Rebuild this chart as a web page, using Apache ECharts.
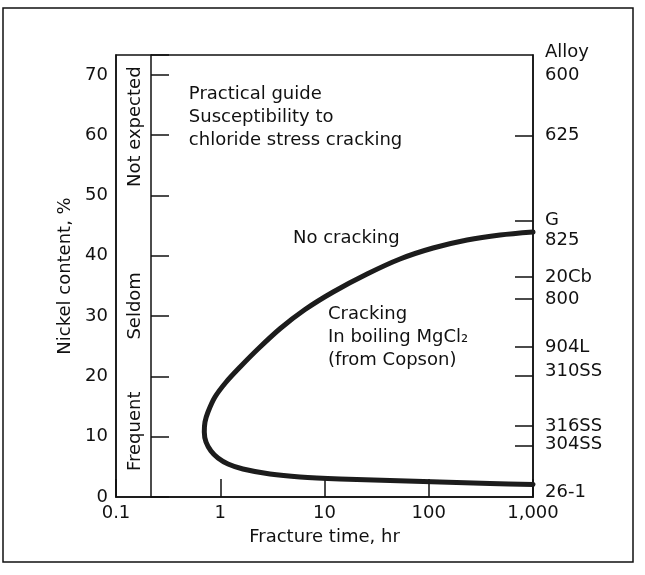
<!DOCTYPE html>
<html>
<head>
<meta charset="utf-8">
<script src="https://cdn.jsdelivr.net/npm/echarts@6/dist/echarts.min.js"></script>
<style>
  html, body { margin: 0; padding: 0; background: #fff; }
  #chart { width: 645px; height: 575px; }
</style>
</head>
<body>
<div id="chart"></div>
<script>
// ---- Data ----
// Copson curve: fracture time (hr) vs nickel content (%), traced from top-right, around the nose, to bottom-right
const curveHours  = [1000, 483, 233, 110, 53, 25.6, 12.1, 6.5, 3.74, 2.30, 1.55, 1.14, 0.89, 0.763, 0.714, 0.703, 0.730,
                     0.815, 0.951, 1.187, 1.65, 3.0, 5.82, 14.1, 42.5, 128, 387, 1000];
const curveNickel = [43.95, 43.45, 42.62, 41.29, 39.47, 36.98, 34.0, 31.09, 27.9, 24.54, 21.56, 19.07, 16.58, 14.10, 12.44, 10.78, 9.12,
                     7.63, 6.47, 5.47, 4.64, 3.81, 3.32, 2.99, 2.74, 2.49, 2.24, 2.07];

// X axis tick labels (log scale)
const timeTickValues = [0.1, 1, 10, 100, 1000];
const timeTickLabels = ['0.1', '1', '10', '100', '1,000'];

// Right-hand alloy scale
const alloyNames   = ['600', '625', 'G', '825', '20Cb', '800', '904L', '310SS', '316SS', '304SS', '26-1'];
const alloyLabelNi = [70, 59.9, 45.8, 42.6, 36.5, 32.8, 24.9, 20.9, 11.7, 8.8, 0.8];
const alloyTickNi  = [59.9, 45.8, 36.5, 32.8, 24.9, 20.1, 11.8, 8.5];

// Left susceptibility band labels
const bandNames  = ['Not expected', 'Seldom', 'Frequent'];
const bandNickel = [61.4, 31.7, 10.9];
const bandHours  = 0.152;

// In-plot notes
const noteTexts  = ['Practical guide\nSusceptibility to\nchloride stress cracking', 'No cracking', 'Cracking\nIn boiling MgCl\u2082\n(from Copson)'];
const noteHours  = [0.50, 4.99, 10.8];
const noteNickel = [63.0, 42.95, 26.5];

// ---- Chart ----
const FONT = 'DejaVu Sans';
const INK = '#111';
const txt = { fontFamily: FONT, fontSize: 18, color: INK };

const chart = echarts.init(document.getElementById('chart'), null, { renderer: 'canvas' });

const Y_MAX = 73.3;

const option = {
  backgroundColor: '#fff',
  animation: false,
  textStyle: { fontFamily: FONT },
  graphic: [{
    type: 'rect',
    shape: { x: 3, y: 8, width: 630, height: 554 },
    style: { fill: 'none', stroke: INK, lineWidth: 1.5 },
    silent: true, z: -1
  }],
  grid: [
    { left: 116, right: 112, top: 55, bottom: 78, show: true, borderColor: INK, borderWidth: 1.5, backgroundColor: 'transparent' },
    { left: 151, right: 112, top: 55, bottom: 78, show: false }
  ],
  xAxis: [
    {
      gridIndex: 0,
      type: 'log', logBase: 10, min: 0.1, max: 1000,
      name: 'Fracture time, hr', nameLocation: 'middle', nameGap: 31,
      nameTextStyle: txt,
      axisLine: { show: true, lineStyle: { color: INK, width: 1.5 } },
      axisTick: { show: true, inside: true, length: 18, lineStyle: { color: INK, width: 1.5 } },
      minorTick: { show: false },
      splitLine: { show: false },
      axisLabel: Object.assign({}, txt, {
        margin: 7,
        formatter: function (v) {
          for (let i = 0; i < timeTickValues.length; i++) {
            if (Math.abs(v - timeTickValues[i]) < 1e-9 * Math.max(1, v)) return timeTickLabels[i];
          }
          return '';
        }
      })
    },
    {
      gridIndex: 1, type: 'value', min: 0, max: 1, show: false
    }
  ],
  yAxis: [
    {
      gridIndex: 0, type: 'value', position: 'left',
      min: 0, max: Y_MAX, interval: 10,
      name: 'Nickel content, %', nameLocation: 'middle', nameGap: 39, nameRotate: 90,
      nameTextStyle: txt,
      axisLine: { show: true, lineStyle: { color: INK, width: 1.5 } },
      axisTick: { show: false },
      splitLine: { show: false },
      axisLabel: Object.assign({}, txt, {
        margin: 8,
        formatter: function (v) { return (Math.abs(v % 10) < 1e-9) ? String(v) : ''; }
      })
    },
    {
      gridIndex: 0, type: 'value', position: 'right',
      min: 0, max: Y_MAX,
      name: 'Alloy', nameLocation: 'end', nameGap: 3,
      nameTextStyle: Object.assign({}, txt, { align: 'left', verticalAlign: 'middle', padding: [0, 0, 0, 12] }),
      axisLine: { show: true, lineStyle: { color: INK, width: 1.5 } },
      axisTick: { show: true, inside: true, length: 18, customValues: alloyTickNi, lineStyle: { color: INK, width: 1.5 } },
      splitLine: { show: false },
      axisLabel: Object.assign({}, txt, {
        margin: 12,
        customValues: alloyLabelNi,
        formatter: function (v) {
          let best = -1, bd = 1e9;
          for (let i = 0; i < alloyLabelNi.length; i++) {
            const d = Math.abs(alloyLabelNi[i] - v);
            if (d < bd) { bd = d; best = i; }
          }
          return bd < 0.05 ? alloyNames[best] : '';
        }
      })
    },
    {
      gridIndex: 1, type: 'value', position: 'left',
      min: 0, max: Y_MAX, interval: 10,
      axisLine: { show: true, lineStyle: { color: INK, width: 1.5 } },
      axisTick: { show: true, inside: true, length: 18, lineStyle: { color: INK, width: 1.5 } },
      axisLabel: { show: false },
      splitLine: { show: false }
    }
  ],
  series: [
    {
      name: 'Copson curve',
      type: 'line',
      xAxisIndex: 0, yAxisIndex: 0,
      data: curveHours.map((h, i) => [h, curveNickel[i]]),
      smooth: 0.3,
      showSymbol: false,
      symbol: 'none',
      lineStyle: { color: '#1c1c1c', width: 5, cap: 'round', join: 'round' },
      z: 3
    },
    {
      name: 'bands',
      type: 'scatter',
      xAxisIndex: 0, yAxisIndex: 0,
      symbolSize: 0,
      silent: true,
      itemStyle: { opacity: 1 },
      data: bandNames.map((n, i) => ({ value: [bandHours, bandNickel[i]], name: n })),
      label: Object.assign({}, txt, {
        show: true, position: 'inside', rotate: 90,
        formatter: function (p) { return p.name; }
      })
    },
    {
      name: 'notes',
      type: 'scatter',
      xAxisIndex: 0, yAxisIndex: 0,
      symbolSize: 0,
      silent: true,
      itemStyle: { opacity: 1 },
      data: noteTexts.map((t, i) => ({ value: [noteHours[i], noteNickel[i]], name: t })),
      label: Object.assign({}, txt, {
        show: true, position: 'right', distance: 0, align: 'left',
        lineHeight: 23,
        formatter: function (p) { return p.name; }
      })
    }
  ]
};

chart.setOption(option);
</script>
</body>
</html>
